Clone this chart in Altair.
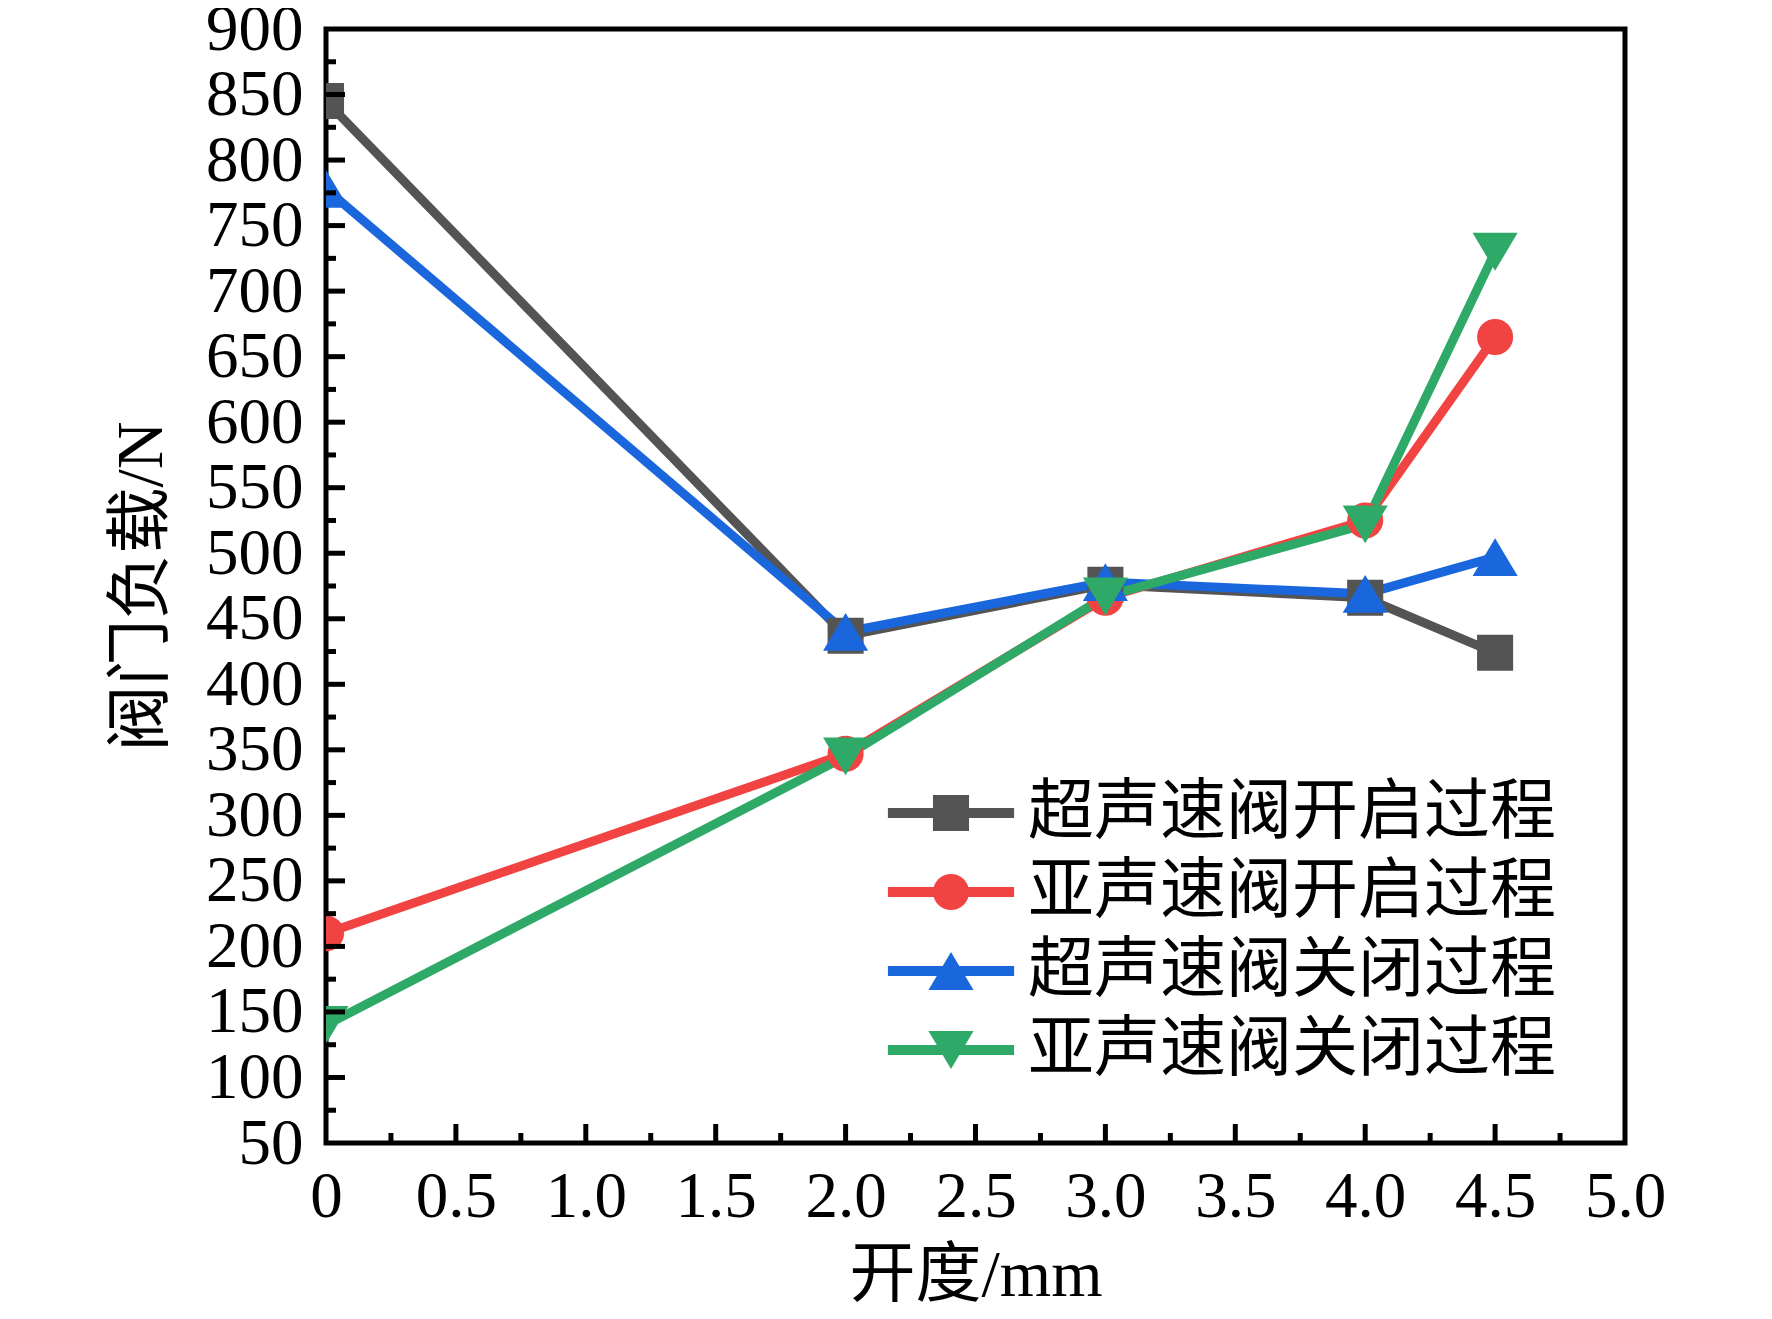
import altair as alt
import pandas as pd

# ---- data ----
opening = [0, 2.0, 3.0, 4.0, 4.5]
series_names = ["超声速阀开启过程", "亚声速阀开启过程", "超声速阀关闭过程", "亚声速阀关闭过程"]
supersonic_open = [845, 437, 476, 466, 424]
subsonic_open = [210, 347, 466, 525, 665]
supersonic_close = [778, 440, 478, 469, 497]
subsonic_close = [140, 345, 467, 522, 730]

colors = ["#545454", "#F24343", "#1A66DD", "#2FA968"]
shapes = ["square", "circle",
          "M0,-1.05L-1.25,1.05L1.25,1.05Z",
          "M0,1.05L-1.25,-1.05L1.25,-1.05Z"]
legend_line_symbol = "M-3.5,0L3.5,0"

x_tick_values = [0, 0.5, 1.0, 1.5, 2.0, 2.5, 3.0, 3.5, 4.0, 4.5, 5.0]
y_tick_values = [50, 100, 150, 200, 250, 300, 350, 400, 450, 500, 550, 600,
                 650, 700, 750, 800, 850, 900]
x_major_inner = [0.5, 1.0, 1.5, 2.0, 2.5, 3.0, 3.5, 4.0, 4.5]
x_minor_inner = [0.25, 0.75, 1.25, 1.75, 2.25, 2.75, 3.25, 3.75, 4.25, 4.75]
y_major_inner = [100, 150, 200, 250, 300, 350, 400, 450, 500, 550, 600, 650,
                 700, 750, 800, 850]
y_minor_inner = [75, 125, 175, 225, 275, 325, 375, 425, 475, 525, 575, 625,
                 675, 725, 775, 825, 875]

x_title = "开度/mm"
y_title = "阀门负载/N"

W, H = 1299, 1114
SERIF = "Liberation Serif, Noto Sans CJK SC"
CJK = "Noto Sans CJK SC"

rows = []
for name, vals in zip(series_names,
                      [supersonic_open, subsonic_open, supersonic_close, subsonic_close]):
    for xv, yv in zip(opening, vals):
        rows.append({"series": name, "marker": name, "x": xv, "y": yv})
df = pd.DataFrame(rows)

xscale = alt.Scale(domain=[0, 5], nice=False, zero=False)
yscale = alt.Scale(domain=[50, 900], nice=False, zero=False)

x_axis = alt.Axis(values=x_tick_values, title=x_title,
                  labelExpr="datum.value == 0 ? '0' : format(datum.value, '.1f')",
                  labelFont=SERIF, labelFontSize=65, labelColor="black",
                  labelPadding=22, titleFont=SERIF, titleFontSize=66,
                  titleFontWeight="normal", titleColor="black", titlePadding=14,
                  labelFlush=False, labelOverlap=False, grid=False, domain=False,
                  ticks=False)
y_axis = alt.Axis(values=y_tick_values, title=y_title,
                  labelFont=SERIF, labelFontSize=65, labelColor="black",
                  labelPadding=23, titleFont=SERIF, titleFontSize=66,
                  titleFontWeight="normal", titleColor="black", titlePadding=30,
                  labelFlush=False, labelOverlap=False, grid=False, domain=False,
                  ticks=False)

X = alt.X("x:Q", scale=xscale, axis=x_axis)
Y = alt.Y("y:Q", scale=yscale, axis=y_axis)

LX, LY = 592, 751

lines = alt.Chart(df).mark_line(strokeWidth=9, clip=True).encode(
    x=X, y=Y,
    color=alt.Color("series:N",
                    scale=alt.Scale(domain=series_names, range=colors),
                    legend=alt.Legend(orient="none", legendX=LX, legendY=LY, title=None,
                                      symbolType=legend_line_symbol, symbolSize=1300,
                                      symbolStrokeWidth=10, labelFont=CJK,
                                      labelFontSize=66, labelColor="black",
                                      labelOffset=44, rowPadding=13, padding=0,
                                      labelLimit=0)),
)

# marker legend drawn on top of the line legend (its labels are blank spacers)
point_legend = alt.Legend(orient="none", legendX=LX, legendY=LY, title=None,
                          symbolSize=1300, symbolStrokeWidth=0, labelFont=CJK,
                          labelFontSize=66, labelExpr="' '", labelOffset=44,
                          rowPadding=13, padding=0, labelLimit=0, symbolOpacity=1)

points = alt.Chart(df).mark_point(filled=True, size=1300, opacity=1, strokeWidth=0,
                                  clip=True).encode(
    x=X, y=Y,
    fill=alt.Fill("marker:N", sort=None, scale=alt.Scale(range=colors), legend=point_legend),
    shape=alt.Shape("marker:N", sort=None, scale=alt.Scale(range=shapes), legend=point_legend),
)

ytick_major = alt.Chart(pd.DataFrame({"v": y_major_inner})).mark_rule(
    color="black", strokeWidth=5).encode(
    y=alt.Y("v:Q", scale=yscale, axis=y_axis), x=alt.value(0), x2=alt.value(19))
ytick_minor = alt.Chart(pd.DataFrame({"v": y_minor_inner})).mark_rule(
    color="black", strokeWidth=5).encode(
    y=alt.Y("v:Q", scale=yscale, axis=y_axis), x=alt.value(0), x2=alt.value(10))
xtick_major = alt.Chart(pd.DataFrame({"u": x_major_inner})).mark_rule(
    color="black", strokeWidth=5).encode(
    x=alt.X("u:Q", scale=xscale, axis=x_axis), y=alt.value(H), y2=alt.value(H - 19))
xtick_minor = alt.Chart(pd.DataFrame({"u": x_minor_inner})).mark_rule(
    color="black", strokeWidth=5).encode(
    x=alt.X("u:Q", scale=xscale, axis=x_axis), y=alt.value(H), y2=alt.value(H - 10))

chart = alt.layer(lines, points, ytick_major, ytick_minor, xtick_major, xtick_minor).properties(
    width=W, height=H,
    autosize=alt.AutoSizeParams(type="none"),
    padding={"left": 318, "top": 21, "right": 139, "bottom": 168},
).configure(background="white").configure_view(stroke="black", strokeWidth=5)

chart.save("out.html", embed_options={"renderer": "svg", "actions": False})
